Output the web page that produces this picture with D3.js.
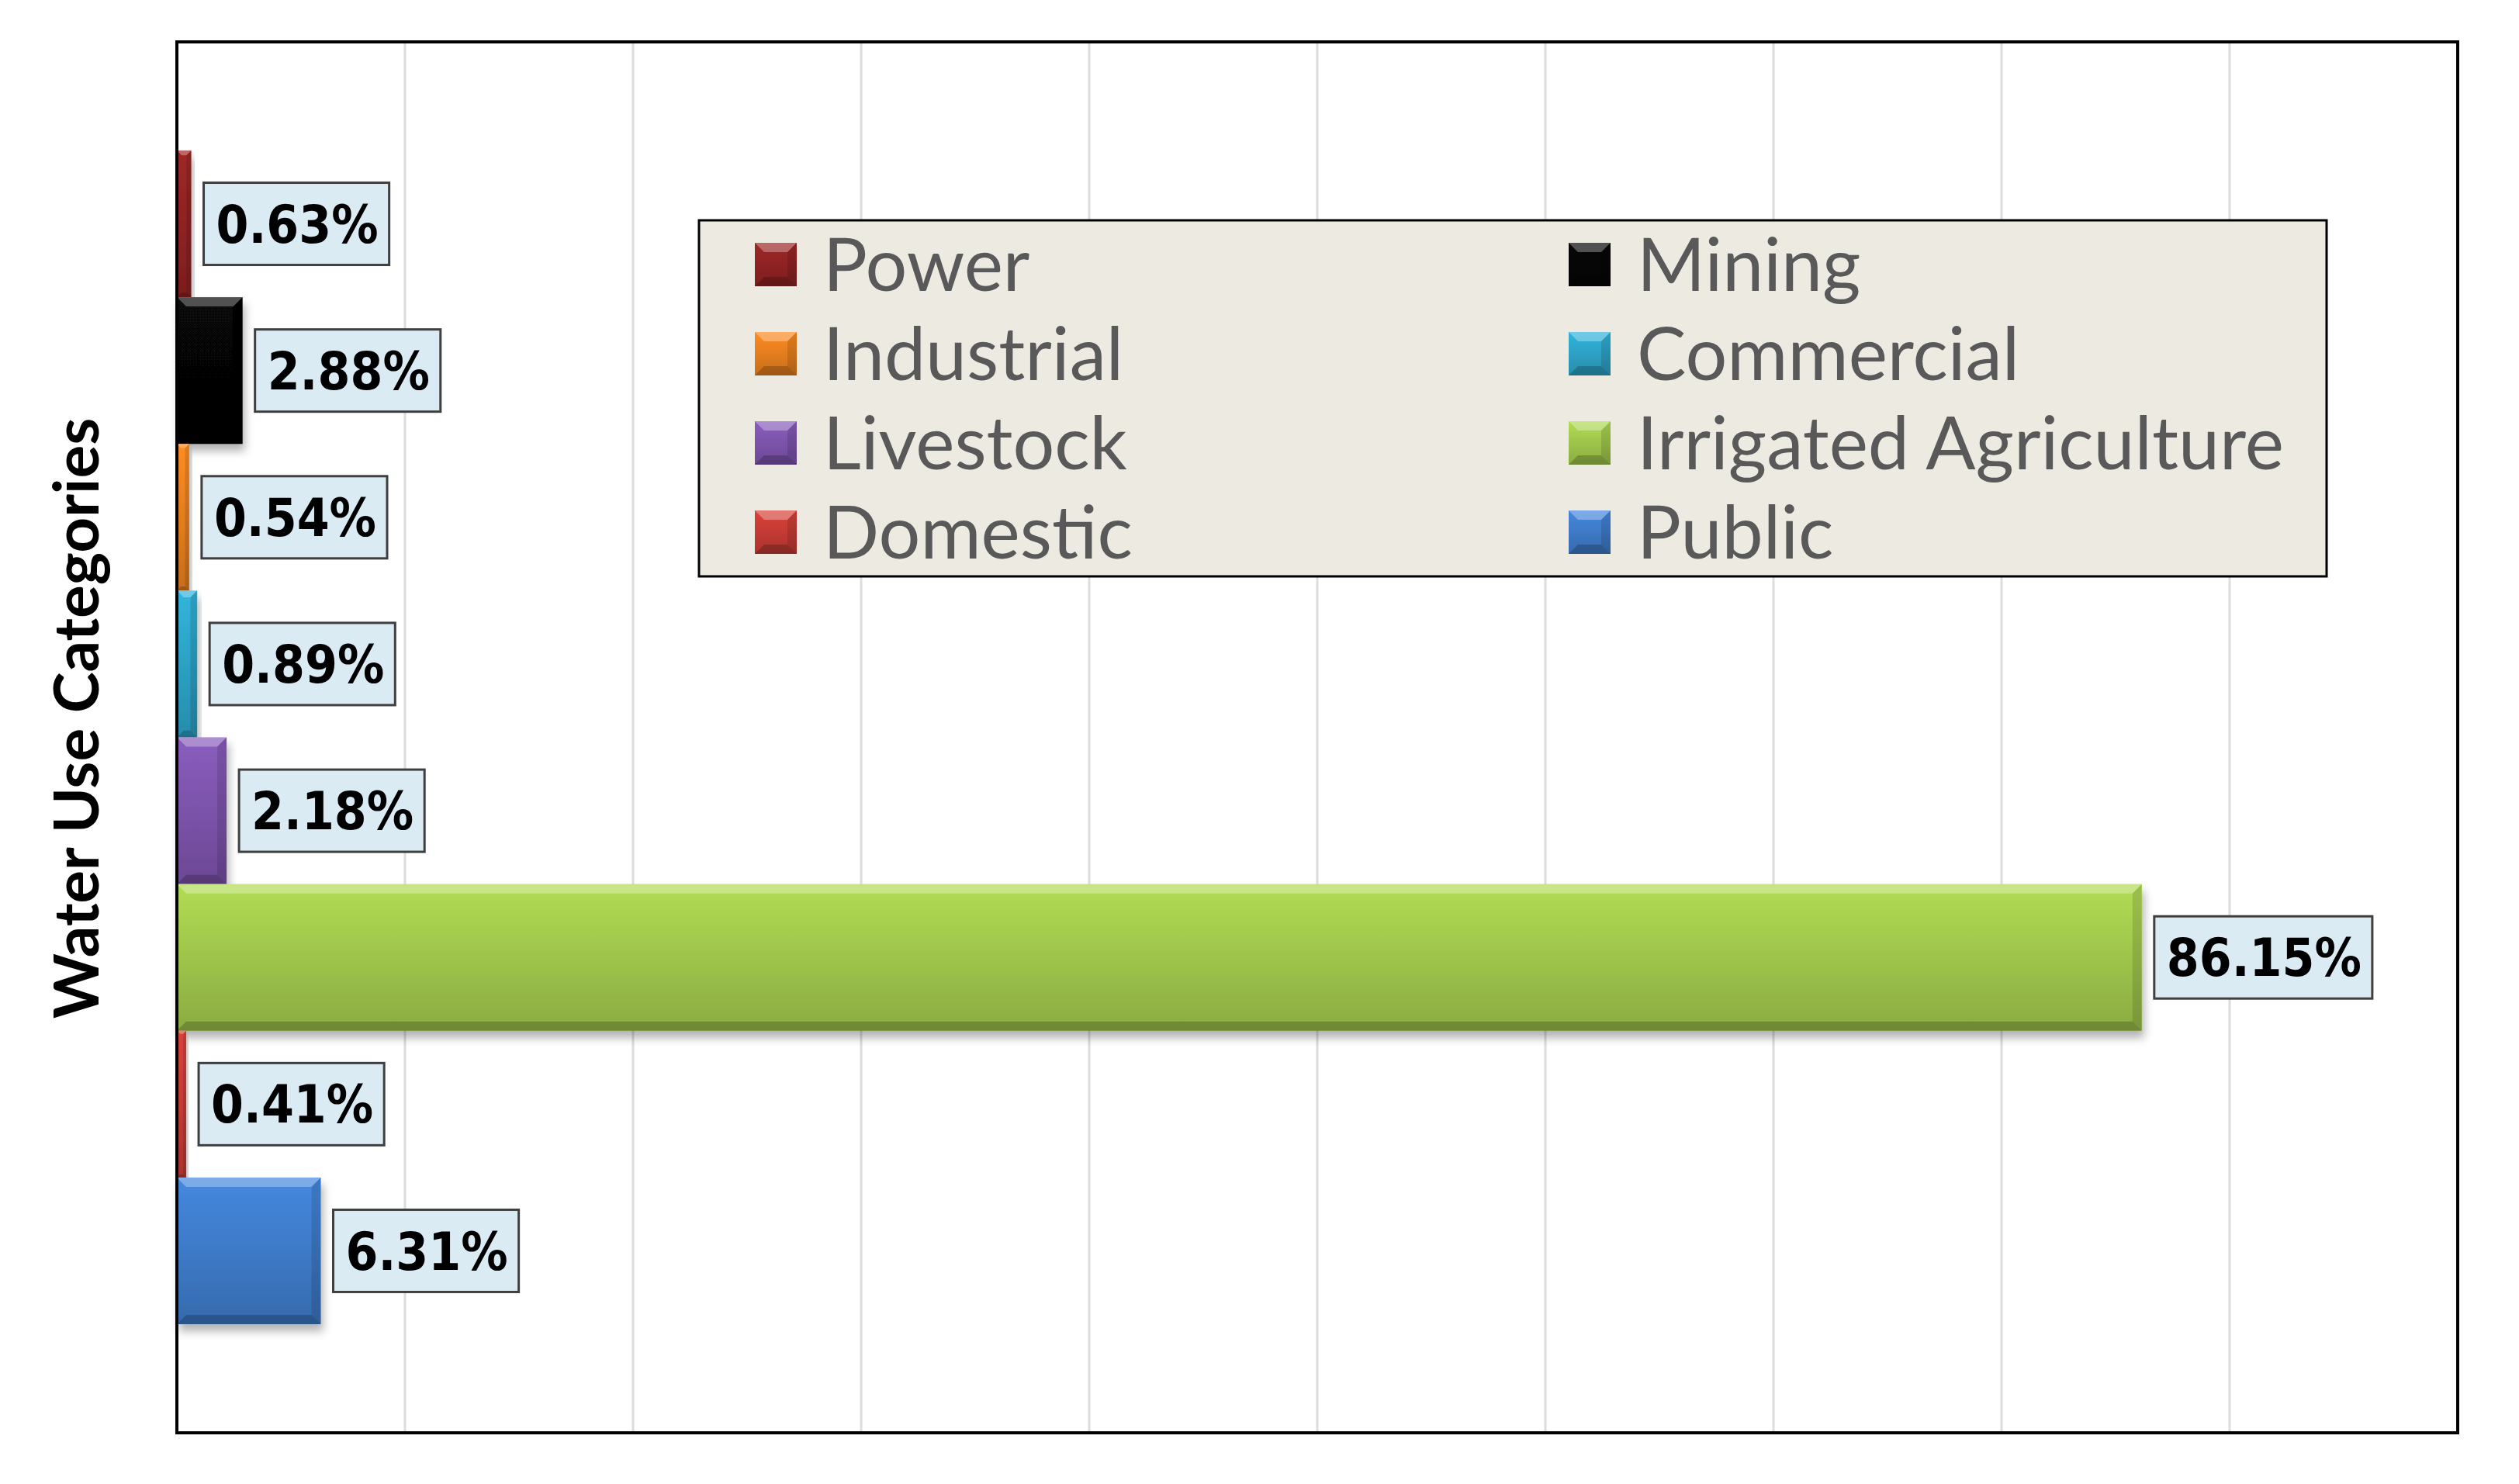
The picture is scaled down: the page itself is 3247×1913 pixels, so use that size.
<!DOCTYPE html>
<html>
<head>
<meta charset="utf-8">
<script src="https://cdn.jsdelivr.net/npm/d3@7"></script>
<style>
  body { margin: 0; background: #fff; }
  svg { display: block; }
</style>
</head>
<body>
<svg id="chart" width="3247" height="1913"></svg>
<script>
// data
const categories = ['Power', 'Mining', 'Industrial', 'Commercial', 'Livestock',
  'Irrigated Agriculture', 'Domestic', 'Public'];
const values = [0.63, 2.88, 0.54, 0.89, 2.18, 86.15, 0.41, 6.31];
const barColors = ['#8c2222', '#060606', '#e07c1e', '#2c9fc2', '#7a52a8',
  '#9cc24a', '#c03a33', '#3d78c4'];
const axisTitle = 'Water Use Categories';

const svg = d3.select('#chart');
const width = +svg.attr('width');
const height = +svg.attr('height');
const margin = {top: 54, right: 79, bottom: 66, left: 228};
const plotW = width - margin.left - margin.right;
const plotH = height - margin.top - margin.bottom;

const x = d3.scaleLinear().domain([0, 100]).range([0, plotW]);
const y = d3.scaleBand().domain(categories).range([0, plotH])
  .paddingInner(0).paddingOuter(0.74);
const color = d3.scaleOrdinal().domain(categories).range(barColors);

const data = categories.map((c, i) => ({cat: c, value: values[i]}));

// gradients + shadow
const defs = svg.append('defs');
categories.forEach((c, i) => {
  const base = d3.color(color(c));
  const grad = defs.append('linearGradient')
    .attr('id', 'grad' + i).attr('x1', 0).attr('y1', 0).attr('x2', 0).attr('y2', 1);
  grad.append('stop').attr('offset', '0%').attr('stop-color', base.brighter(0.35));
  grad.append('stop').attr('offset', '55%').attr('stop-color', base);
  grad.append('stop').attr('offset', '100%').attr('stop-color', base.darker(0.35));
});
const shadow = defs.append('filter').attr('id', 'shadow')
  .attr('x', '-10%').attr('y', '-10%').attr('width', '130%').attr('height', '140%');
shadow.append('feDropShadow').attr('dx', 3).attr('dy', 9)
  .attr('stdDeviation', 6).attr('flood-color', '#000').attr('flood-opacity', 0.3);

svg.append('rect').attr('width', width).attr('height', height).attr('fill', '#fff');

const g = svg.append('g').attr('transform', `translate(${margin.left},${margin.top})`);

// vertical gridlines
g.selectAll('.grid')
  .data(x.ticks(10).filter(d => d > 0 && d < 100))
  .enter().append('line')
  .attr('class', 'grid')
  .attr('x1', d => x(d)).attr('x2', d => x(d))
  .attr('y1', 0).attr('y2', plotH)
  .attr('stroke', '#dcdcdc').attr('stroke-width', 3);

// bevelled bar drawing
const drawBevelBox = (sel, w, h, i) => {
  const b = Math.min(12, w / 3, h / 3);
  sel.append('rect').attr('width', w).attr('height', h).attr('fill', `url(#grad${i})`);
  sel.append('path')
    .attr('d', `M0,0 H${w} L${w - b},${b} H${b} Z`)
    .attr('fill', '#fff').attr('fill-opacity', 0.3);
  sel.append('path')
    .attr('d', `M${w},0 V${h} L${w - b},${h - b} V${b} Z`)
    .attr('fill', '#000').attr('fill-opacity', 0.12);
  sel.append('path')
    .attr('d', `M0,${h} H${w} L${w - b},${h - b} H${b} Z`)
    .attr('fill', '#000').attr('fill-opacity', 0.2);
};

const bars = g.selectAll('.bar')
  .data(data)
  .enter().append('g')
  .attr('class', 'bar')
  .attr('filter', 'url(#shadow)')
  .attr('transform', d => `translate(${x(0)},${y(d.cat)})`);
bars.each(function(d, i) {
  drawBevelBox(d3.select(this), x(d.value) - x(0), y.bandwidth(), i);
});

// frame
g.append('rect')
  .attr('width', plotW).attr('height', plotH)
  .attr('fill', 'none').attr('stroke', '#000').attr('stroke-width', 4);

// data labels
const labels = g.selectAll('.label')
  .data(data)
  .enter().append('g')
  .attr('class', 'label')
  .attr('transform', d => `translate(${x(d.value) + 16},${y(d.cat) + y.bandwidth() / 2})`);
labels.each(function(d) {
  const lg = d3.select(this);
  const t = lg.append('text')
    .attr('x', 16).attr('dy', '0.36em')
    .attr('font-family', '"DejaVu Sans Condensed", "DejaVu Sans", sans-serif')
    .attr('font-stretch', 'condensed')
    .attr('font-weight', 'bold').attr('font-size', 67)
    .attr('fill', '#000')
    .text(d3.format('.2f')(d.value) + '%');
  const tw = t.node().getComputedTextLength();
  lg.insert('rect', 'text')
    .attr('x', 0).attr('y', -53)
    .attr('width', tw + 30).attr('height', 106)
    .attr('fill', '#dbebf3').attr('stroke', '#3f3f3f').attr('stroke-width', 3);
});

// legend
const legend = svg.append('g').attr('transform', 'translate(901,284)');
legend.append('rect')
  .attr('width', 2098).attr('height', 459)
  .attr('fill', '#edeae1').attr('stroke', '#000').attr('stroke-width', 3);
const items = legend.selectAll('.item')
  .data(data)
  .enter().append('g')
  .attr('class', 'item')
  .attr('transform', (d, i) => `translate(${72 + (i % 2) * 1049},${57 + Math.floor(i / 2) * 115})`);
items.each(function(d, i) {
  const it = d3.select(this).append('g').attr('transform', 'translate(0,-28)');
  drawBevelBox(it, 54, 56, i);
});
items.append('text')
  .attr('x', 88).attr('dy', '0.36em')
  .attr('font-family', 'Lato, "Open Sans", sans-serif')
  .attr('font-size', 95).attr('fill', '#595959')
  .text(d => d.cat);

// y axis title
svg.append('text')
  .attr('transform', 'translate(127,926) rotate(-90)')
  .attr('text-anchor', 'middle')
  .attr('font-family', 'Lato, "Open Sans", sans-serif')
  .attr('font-weight', 'bold').attr('font-size', 80)
  .attr('fill', '#000')
  .text(axisTitle);
</script>
</body>
</html>
